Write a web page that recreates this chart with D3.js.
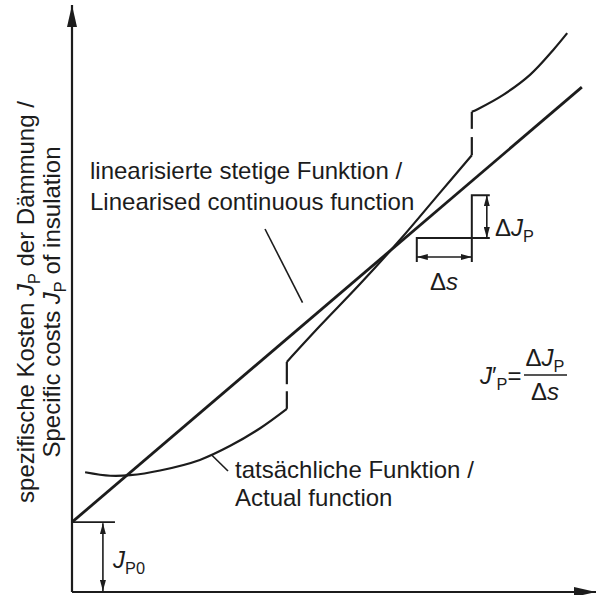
<!DOCTYPE html>
<html><head><meta charset="utf-8">
<script src="https://cdn.jsdelivr.net/npm/d3@7"></script>
<style>body{margin:0;background:#fff}svg{display:block}</style>
</head><body><svg id="c" width="597" height="595"></svg>
<script>
// ---- data (schematic units: s = insulation thickness, J = specific cost) ----
const linearS = [0, 97.3];
const linearJ = [11.9, 86.0];
const seg1S = [2.5, 7.3, 11.1, 16.8, 24.4, 30.2, 35.9, 41.0];
const seg1J = [20.4, 19.8, 19.9, 20.7, 22.5, 24.9, 27.9, 31.2];
const step1S = 41.0, step1J = [31.2, 39.2], step1Gap = [34.2, 35.4];
const seg2S = [41.0, 47.3, 55.0, 62.6, 70.2, 76.3];
const seg2J = [39.2, 45.3, 52.5, 60.0, 68.0, 74.4];
const step2S = 76.3, step2J = [74.4, 81.8], step2Gap = [77.5, 78.9];
const seg3S = [76.3, 77.5, 82.3, 87.4, 91.8, 94.5];
const seg3J = [81.8, 82.3, 84.7, 88.1, 92.3, 95.2];
const jp0 = 11.9;
const deltaS = [65.8, 76.3];
const deltaJ = [60.3, 67.6];

const svg = d3.select("#c");
const x = d3.scaleLinear().domain([0, 100]).range([72, 596]);
const y = d3.scaleLinear().domain([0, 100]).range([592, 5]);
const ink = "#1c1c1c";
const font = "'Liberation Sans', Arial, Helvetica, sans-serif";
const fs = 24;

const defs = svg.append("defs");
function marker(id, w, h) {
  defs.append("marker").attr("id", id).attr("viewBox", `0 0 ${w} ${h}`)
    .attr("refX", w).attr("refY", h / 2).attr("markerWidth", w).attr("markerHeight", h)
    .attr("markerUnits", "userSpaceOnUse").attr("orient", "auto-start-reverse")
    .append("path").attr("d", `M0,0L${w},${h/2}L0,${h}Z`).attr("fill", ink);
}
marker("big", 22, 10);
marker("small", 11, 6);

// axes (no ticks)
const gx = svg.append("g").attr("transform", `translate(0,${y(0)})`)
  .call(d3.axisBottom(x).tickValues([]).tickSizeOuter(0));
const gy = svg.append("g").attr("transform", `translate(${x(0)},0)`)
  .call(d3.axisLeft(y).tickValues([]).tickSizeOuter(0));
[gx, gy].forEach(g => g.select(".domain").attr("stroke", ink).attr("stroke-width", 2.2)
  .attr("marker-end", "url(#big)"));
gx.select(".domain").attr("d", `M${x(0)},0H${x(100)}`);
gy.select(".domain").attr("d", `M0,${y(0)}V${y(100)}`);

// linear function
const line = d3.line().x(d => x(d[0])).y(d => y(d[1]));
svg.append("path").datum(d3.zip(linearS, linearJ)).attr("d", line)
  .attr("fill", "none").attr("stroke", ink).attr("stroke-width", 2.8);

// actual function
const curve = d3.line().x(d => x(d[0])).y(d => y(d[1])).curve(d3.curveCatmullRom.alpha(0.5));
[[seg1S, seg1J], [seg2S, seg2J], [seg3S, seg3J]].forEach(([s, j]) => {
  svg.append("path").datum(d3.zip(s, j)).attr("d", curve)
    .attr("fill", "none").attr("stroke", ink).attr("stroke-width", 2.2);
});
[[step1S, step1J, step1Gap], [step2S, step2J, step2Gap]].forEach(([s, j, g]) => {
  [[j[0], g[0]], [g[1], j[1]]].forEach(([a, b]) => {
    svg.append("line").attr("x1", x(s)).attr("x2", x(s)).attr("y1", y(a)).attr("y2", y(b))
      .attr("stroke", ink).attr("stroke-width", 2.2);
  });
});

// J_P0 dimension
const thin = 1.6;
svg.append("line").attr("x1", x(0)).attr("x2", x(8.2)).attr("y1", y(jp0)).attr("y2", y(jp0))
  .attr("stroke", ink).attr("stroke-width", thin);
svg.append("line").attr("x1", x(5.9)).attr("x2", x(5.9)).attr("y1", y(jp0) + 1).attr("y2", y(0) - 1)
  .attr("stroke", ink).attr("stroke-width", thin)
  .attr("marker-start", "url(#small)").attr("marker-end", "url(#small)");

// delta annotation
const dsY = y(deltaJ[0]);
svg.append("path").attr("d",
  `M${x(deltaS[0])},${dsY + 24}V${dsY}H${x(deltaS[1])}M${x(deltaS[1])},${dsY + 24}V${y(deltaJ[1])}H${x(deltaS[1]) + 18}M${x(deltaS[1])},${dsY}H${x(deltaS[1]) + 18}`)
  .attr("fill", "none").attr("stroke", ink).attr("stroke-width", 2);
svg.append("line").attr("x1", x(deltaS[0])).attr("x2", x(deltaS[1])).attr("y1", dsY + 19).attr("y2", dsY + 19)
  .attr("stroke", ink).attr("stroke-width", thin)
  .attr("marker-start", "url(#small)").attr("marker-end", "url(#small)");
svg.append("line").attr("x1", x(deltaS[1]) + 15).attr("x2", x(deltaS[1]) + 15)
  .attr("y1", y(deltaJ[1])).attr("y2", dsY)
  .attr("stroke", ink).attr("stroke-width", thin)
  .attr("marker-start", "url(#small)").attr("marker-end", "url(#small)");

// text helper: parts = [text, style] where style: 'i' italic, 'sub' subscript
function rich(g, px, py, parts, anchor) {
  const t = g.append("text").attr("x", px).attr("y", py).attr("font-family", font)
    .attr("font-size", fs).attr("fill", ink).attr("text-anchor", anchor || "start");
  let lowered = false;
  parts.forEach(([txt, st]) => {
    const sp = t.append("tspan").text(txt);
    if (st && st.includes("i")) sp.attr("font-style", "italic");
    if (st && st.includes("sub")) {
      sp.attr("font-size", fs * 0.68);
      if (!lowered) { sp.attr("dy", 6); lowered = true; }
    } else if (lowered) { sp.attr("dy", -6); lowered = false; }
  });
  return t;
}

// y axis label
const yg1 = svg.append("g").attr("transform", `translate(34,302) rotate(-90)`);
rich(yg1, 0, 0, [["spezifische Kosten "], ["J", "i"], ["P", "sub"], [" der Dämmung /"]], "middle");
const yg2 = svg.append("g").attr("transform", `translate(60,302) rotate(-90)`);
rich(yg2, 0, 0, [["Specific costs "], ["J", "i"], ["P", "sub"], [" of insulation"]], "middle");

// labels
rich(svg, 90, 179, [["linearisierte stetige Funktion /"]]);
rich(svg, 90, 210, [["Linearised continuous function"]]);
svg.append("line").attr("x1", 265).attr("y1", 229).attr("x2", x(44)).attr("y2", y(49.3))
  .attr("stroke", ink).attr("stroke-width", thin);

rich(svg, 235, 478, [["tatsächliche Funktion /"]]);
rich(svg, 235, 506, [["Actual function"]]);
svg.append("line").attr("x1", x(26.7)).attr("y1", y(23.3)).attr("x2", 228).attr("y2", 471)
  .attr("stroke", ink).attr("stroke-width", thin);

rich(svg, 113, 568, [["J", "i"], ["P0", "sub"]]);
rich(svg, 495, 236, [["Δ"], ["J", "i"], ["P", "sub"]]);
rich(svg, 444, 290, [["Δ"], ["s", "i"]], "middle");

// formula
rich(svg, 480, 384, [["J", "i"], ["′"], ["P", "sub"], ["="]]);
svg.append("line").attr("x1", 524).attr("x2", 567).attr("y1", 375).attr("y2", 375)
  .attr("stroke", ink).attr("stroke-width", 1.6);
rich(svg, 545, 366, [["Δ"], ["J", "i"], ["P", "sub"]], "middle");
rich(svg, 545, 400, [["Δ"], ["s", "i"]], "middle");
</script></body></html>
